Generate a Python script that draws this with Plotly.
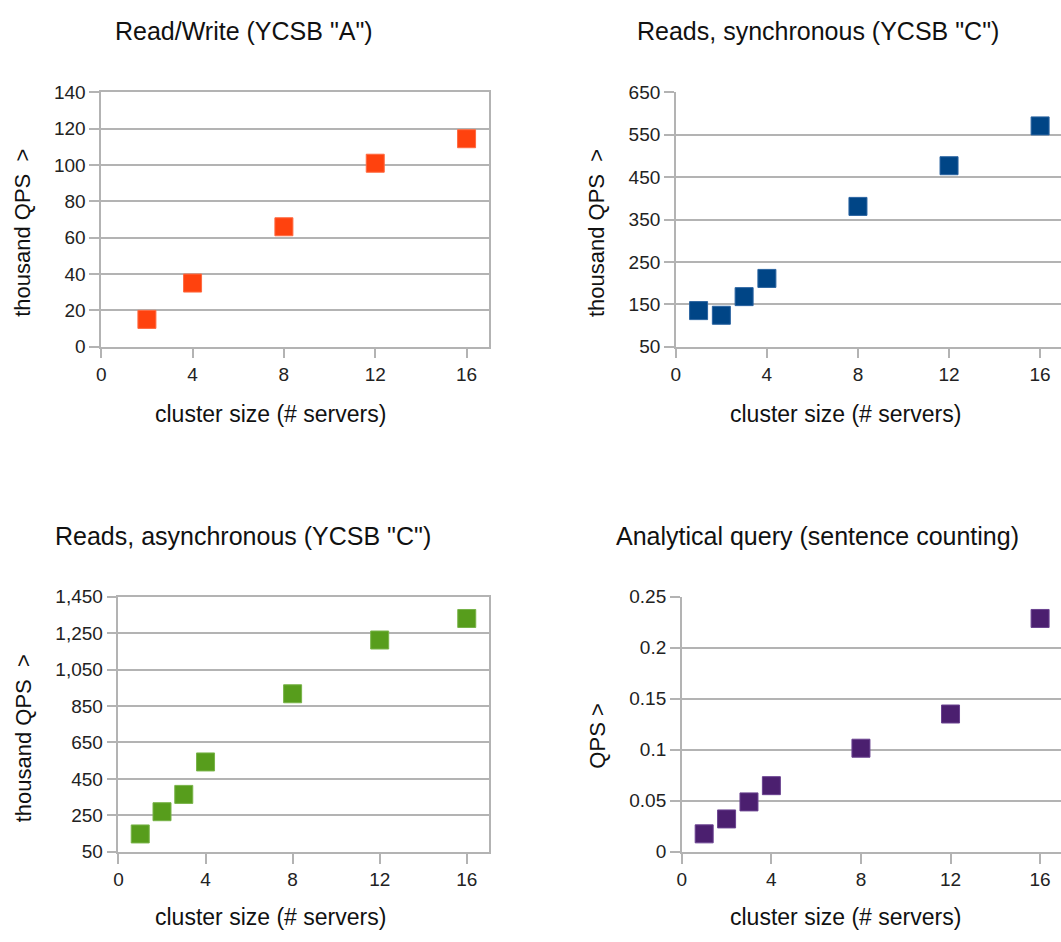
import plotly.graph_objects as go

# ---------------- data ----------------
rw_x = [2, 4, 8, 12, 16]
rw_y = [15, 35, 66, 101, 114.5]

sync_x = [1, 2, 3, 4, 8, 12, 16]
sync_y = [135, 124, 168, 211, 381, 477, 571]

async_x = [1, 2, 3, 4, 8, 12, 16]
async_y = [148, 270, 365, 543, 917, 1212, 1330]

anal_x = [1, 2, 3, 4, 8, 12, 16]
anal_y = [0.0176, 0.0322, 0.0489, 0.0648, 0.1015, 0.135, 0.2286]

titles = ['Read/Write (YCSB "A")', 'Reads, synchronous (YCSB "C")',
          'Reads, asynchronous (YCSB "C")', 'Analytical query (sentence counting)']
x_title = "cluster size (# servers)"
y_titles = ["thousand QPS\u00a0\u00a0>", "thousand QPS\u00a0\u00a0>", "thousand QPS\u00a0\u00a0>", "QPS\u00a0>"]
colors = ["#FF420E", "#004586", "#579D1C", "#4B1F6F"]
edge_colors = ["#FF6A40", "#2A63A0", "#78B348", "#6A4290"]
x_ticks = [0, 4, 8, 12, 16]

W, H = 1061, 942
FONT = "Liberation Sans, Arial, sans-serif"
GRID = "#b3b3b3"


def px(x):
    return x / W


def py(y):
    return 1 - y / H


fig = go.Figure()

series = [(rw_x, rw_y), (sync_x, sync_y), (async_x, async_y), (anal_x, anal_y)]
for i, (xs, ys) in enumerate(series):
    fig.add_trace(go.Scatter(
        x=xs, y=ys, mode="markers",
        xaxis="x" if i == 0 else f"x{i+1}",
        yaxis="y" if i == 0 else f"y{i+1}",
        marker=dict(symbol="square", size=18, color=colors[i],
                    line=dict(color=edge_colors[i], width=1)),
        showlegend=False, hoverinfo="x+y"))

# plot-area geometry in pixels: (x_left, x_right, y_top, y_bottom, xmax)
geo = [
    (96.7, 486.7, 84.3, 344.3, 17.0),
    (674.0, 1061.0, 84.3, 344.3, (1061 - 674) / 22.875),
    (114.0, 486.7, 600.0, 861.0, 17.04),
    (680.0, 1061.0, 600.0, 861.0, (1061 - 680) / 22.5),
]
yspecs = [
    dict(range=[0, 140], tick0=0, dtick=20, tickformat=""),
    dict(range=[50, 650], tick0=50, dtick=100, tickformat=""),
    dict(range=[50, 1450], tick0=50, dtick=200, tickformat=","),
    dict(range=[0, 0.25], tick0=0, dtick=0.05, tickformat=""),
]

tickfont = dict(family=FONT, size=19, color="#222")
for i in range(4):
    xl, xr, yt, yb, xmax = geo[i]
    suffix = "" if i == 0 else str(i + 1)
    left = i in (0, 2)
    fig.layout["xaxis" + suffix] = dict(
        domain=[px(xl), px(xr)], range=[0, xmax], tickvals=x_ticks,
        anchor="y" + suffix, showgrid=False, zeroline=False,
        showline=True, linecolor=GRID, linewidth=1.5,
        mirror=True if left else False,
        ticks="outside", ticklen=10, tickcolor=GRID, tickwidth=1.5,
        tickfont=tickfont, fixedrange=True)
    ys = yspecs[i]
    fig.layout["yaxis" + suffix] = dict(
        domain=[py(yb), py(yt)], range=ys["range"], tick0=ys["tick0"],
        dtick=ys["dtick"], tickformat=ys["tickformat"],
        anchor="x" + suffix, showgrid=True, gridcolor=GRID, gridwidth=1.5,
        zeroline=False, showline=True, linecolor=GRID, linewidth=1.5,
        mirror=True if left else False,
        ticks="outside", ticklen=10, tickcolor=GRID, tickwidth=1.5,
        tickfont=tickfont, fixedrange=True)

# titles and axis titles (pixel positions)
title_pos = [(240, 21), (817, 21), (239, 538), (816, 538)]
xt_pos = [(267, 413), (844, 413), (267, 928), (844, 928)]
yt_pos = [(18, 228), (595, 228), (18, 745), (595, 743)]

ann = []
for i in range(4):
    ann.append(dict(text=titles[i], x=px(title_pos[i][0]), y=py(title_pos[i][1]),
                    xref="paper", yref="paper", xanchor="center", yanchor="middle",
                    showarrow=False, font=dict(family=FONT, size=25, color="#111")))
    ann.append(dict(text=x_title, x=px(xt_pos[i][0]), y=py(xt_pos[i][1]),
                    xref="paper", yref="paper", xanchor="center", yanchor="middle",
                    showarrow=False, font=dict(family=FONT, size=23, color="#111")))
    ann.append(dict(text=y_titles[i], x=px(yt_pos[i][0]), y=py(yt_pos[i][1]),
                    xref="paper", yref="paper", xanchor="center", yanchor="middle",
                    textangle=-90, showarrow=False,
                    font=dict(family=FONT, size=22, color="#111")))

fig.update_layout(
    width=W, height=H, margin=dict(l=0, r=0, t=0, b=0),
    paper_bgcolor="white", plot_bgcolor="white",
    annotations=ann, font=dict(family=FONT))

fig.write_html("out.html", config={"displayModeBar": False},
               post_script="document.body.style.margin='0';document.body.style.overflow='hidden';")
